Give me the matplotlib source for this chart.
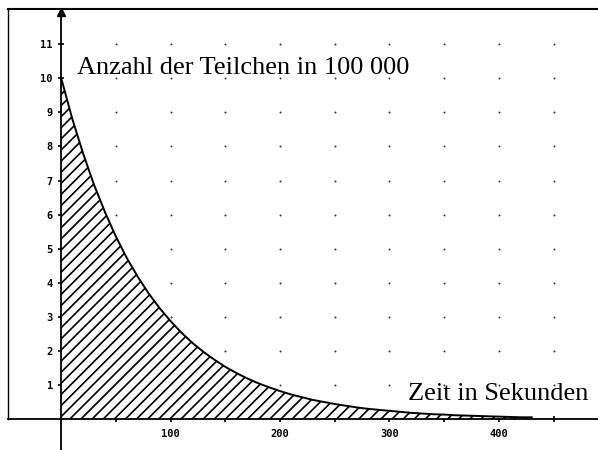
import numpy as np
import matplotlib
matplotlib.use("Agg")
import matplotlib.pyplot as plt

# Zerfallskurve (Zeit in s, Teilchen in 100 000)
zeit = [0, 10, 20, 30, 40, 50, 60, 70, 80, 90, 100, 110, 120, 130, 140, 150,
        160, 170, 180, 190, 200, 210, 220, 230, 240, 250, 260, 270, 280, 290,
        300, 310, 320, 330, 340, 350, 360, 370, 380, 390, 400, 410, 420, 430]
teilchen = [10.0, 8.82, 7.79, 6.87, 6.07, 5.35, 4.72, 4.17, 3.68, 3.25, 2.87,
            2.53, 2.23, 1.97, 1.74, 1.53, 1.35, 1.19, 1.05, 0.93, 0.82, 0.72,
            0.64, 0.56, 0.50, 0.44, 0.39, 0.34, 0.30, 0.27, 0.24, 0.21, 0.18,
            0.16, 0.14, 0.13, 0.11, 0.10, 0.09, 0.08, 0.07, 0.06, 0.05, 0.05]

x_labels = [100, 200, 300, 400]
x_minor = [50, 150, 250, 350, 450]
y_labels = list(range(1, 12))
grid_x = [50, 100, 150, 200, 250, 300, 350, 400, 450]
grid_y = list(range(1, 12))

plt.rcParams["hatch.linewidth"] = 1.2

fig = plt.figure(figsize=(5.98, 4.5), dpi=100)
ax = fig.add_axes([0, 0, 1, 1])
ax.set_xlim(-56, 490.6)
ax.set_ylim(-0.91, 12.3)

# Punktraster
gx, gy = np.meshgrid(grid_x, grid_y)
ax.scatter(gx.ravel(), gy.ravel(), s=2, color="#333333", linewidths=0, zorder=1)

# schraffierte Fläche unter der Kurve
ax.fill_between(zeit, teilchen, 0, facecolor="white", edgecolor="black",
                hatch="///", linewidth=0, zorder=2)
ax.plot(zeit, teilchen, color="black", lw=1.4, zorder=3)

# Achsen durch den Ursprung
for s in ["top", "right"]:
    ax.spines[s].set_visible(False)
ax.spines["left"].set_position(("data", 0))
ax.spines["bottom"].set_position(("data", 0))
ax.spines["left"].set_bounds(-0.91, 11.95)
ax.spines["bottom"].set_bounds(-49, 490.6)
ax.spines["left"].set_linewidth(1.3)
ax.spines["bottom"].set_linewidth(1.3)
ax.plot(0, 11.95, marker="^", color="black", markersize=6, clip_on=False, zorder=4)

# Rahmen oben und links
ax.plot([-49, 490.6], [12.03, 12.03], color="black", lw=1.5, clip_on=False)
ax.plot([-49, -49], [12.03, 0], color="black", lw=1.0, clip_on=False)

tick_font = {"family": "DejaVu Sans Mono", "weight": "bold", "size": 7.5}
ax.set_xticks(x_labels)
ax.set_xticklabels([str(v) for v in x_labels], fontdict=tick_font)
ax.set_xticks(x_minor, minor=True)
ax.set_yticks(y_labels)
ax.set_yticklabels([str(v) for v in y_labels], fontdict=tick_font)
ax.tick_params(axis="both", which="both", direction="inout", length=5, width=1.2,
               colors="black")
ax.tick_params(axis="y", pad=3.5)
ax.tick_params(axis="x", pad=4.5)

ax.text(14, 10.12, "Anzahl der Teilchen in 100 000", family="Liberation Serif",
        fontsize=19, va="baseline", ha="left")
ax.text(481.5, 0.56, "Zeit in Sekunden", family="Liberation Serif",
        fontsize=19, va="baseline", ha="right")

fig.savefig("out.png", dpi=100)
